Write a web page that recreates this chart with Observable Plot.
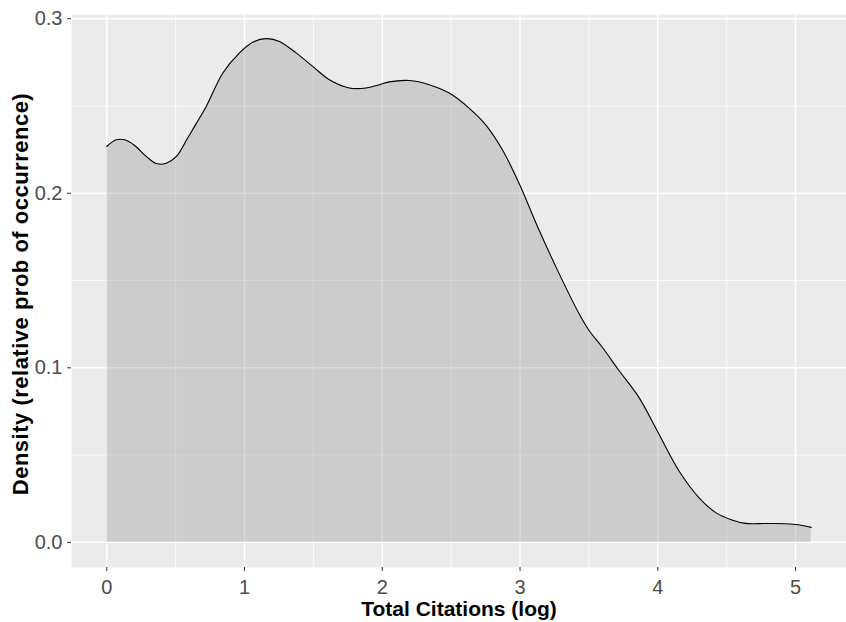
<!DOCTYPE html>
<html>
<head>
<meta charset="utf-8">
<script src="https://cdn.jsdelivr.net/npm/d3@7"></script>
<script src="https://cdn.jsdelivr.net/npm/@observablehq/plot@0.6"></script>
<style>
  html, body { margin: 0; padding: 0; background: #ffffff; }
  #chart { width: 846px; height: 622px; }
  .ytitle text { letter-spacing: 0.5px; }
</style>
</head>
<body>
<div id="chart"></div>
<script>
// Density curve
const citationsLog = [0, 0.07, 0.13, 0.2, 0.288, 0.36, 0.433, 0.507, 0.58, 0.601, 0.65, 0.722, 0.843, 0.964, 1.06, 1.157, 1.254, 1.374, 1.495, 1.616, 1.761, 1.882, 1.978, 2.051, 2.196, 2.341, 2.486, 2.63, 2.751, 2.872, 2.993, 3.138, 3.283, 3.428, 3.5, 3.596, 3.717, 3.862, 4.007, 4.152, 4.297, 4.418, 4.538, 4.635, 4.78, 4.925, 5.022, 5.114];
const density = [0.2268, 0.2306, 0.2306, 0.2275, 0.221, 0.2170, 0.2172, 0.2212, 0.2306, 0.2334, 0.2400, 0.2497, 0.2689, 0.2804, 0.2865, 0.2886, 0.2870, 0.2804, 0.2727, 0.2650, 0.2603, 0.2603, 0.2622, 0.2638, 0.2646, 0.2622, 0.2574, 0.2488, 0.2392, 0.2249, 0.2057, 0.1789, 0.1541, 0.1311, 0.1215, 0.1119, 0.0986, 0.0832, 0.0622, 0.0412, 0.0258, 0.0172, 0.0128, 0.0109, 0.0108, 0.0107, 0.0101, 0.0086];

const xTicks = [0, 1, 2, 3, 4, 5];
const xMinor = [0.5, 1.5, 2.5, 3.5, 4.5];
const yTicks = [0, 0.1, 0.2, 0.3];
const yMinor = [0.05, 0.15, 0.25];

const xTitle = "Total Citations (log)";
const yTitle = "Density (relative prob of occurrence)";

const data = citationsLog.map((x, i) => ({x, y: density[i]}));

const font = "'Liberation Sans', Arial, sans-serif";

const chart = Plot.plot({
  width: 846,
  height: 622,
  marginLeft: 71,
  marginRight: 0,
  marginTop: 14,
  marginBottom: 55,
  style: {fontFamily: font, background: "#ffffff"},
  x: {domain: [-0.256, 5.37]},
  y: {domain: [-0.0144, 0.3024]},
  marks: [
    Plot.frame({fill: "#EBEBEB", stroke: null}),
    Plot.gridX(xMinor, {stroke: "#ffffff", strokeOpacity: 1, strokeWidth: 0.8}),
    Plot.gridY(yMinor, {stroke: "#ffffff", strokeOpacity: 1, strokeWidth: 0.8}),
    Plot.gridX(xTicks, {stroke: "#ffffff", strokeOpacity: 1, strokeWidth: 1.5}),
    Plot.gridY(yTicks, {stroke: "#ffffff", strokeOpacity: 1, strokeWidth: 1.5}),
    Plot.areaY(data, {x: "x", y: "y", fill: "#808080", fillOpacity: 0.29, curve: "catmull-rom"}),
    Plot.line(data, {x: "x", y: "y", stroke: "#000000", strokeWidth: 1.1, curve: "catmull-rom"}),
    Plot.axisX(xTicks, {tickSize: 4, tickPadding: 8, fontSize: 20, stroke: "#333333", fill: "#4D4D4D", label: null, tickFormat: d => String(d)}),
    Plot.axisY(yTicks, {tickSize: 4, tickPadding: 5, fontSize: 20, stroke: "#333333", fill: "#4D4D4D", label: null, tickFormat: d => d.toFixed(1)}),
    Plot.text([xTitle], {frameAnchor: "bottom", dy: 34, lineAnchor: "top", textAnchor: "middle", fontSize: 21, fontWeight: "bold", fill: "#000000", text: d => d}),
    Plot.text([yTitle], {className: "ytitle", frameAnchor: "left", dx: -51, dy: 3, rotate: -90, textAnchor: "middle", lineAnchor: "middle", fontSize: 22, fontWeight: "bold", fill: "#000000", text: d => d})
  ]
});
document.getElementById("chart").appendChild(chart);
</script>
</body>
</html>
